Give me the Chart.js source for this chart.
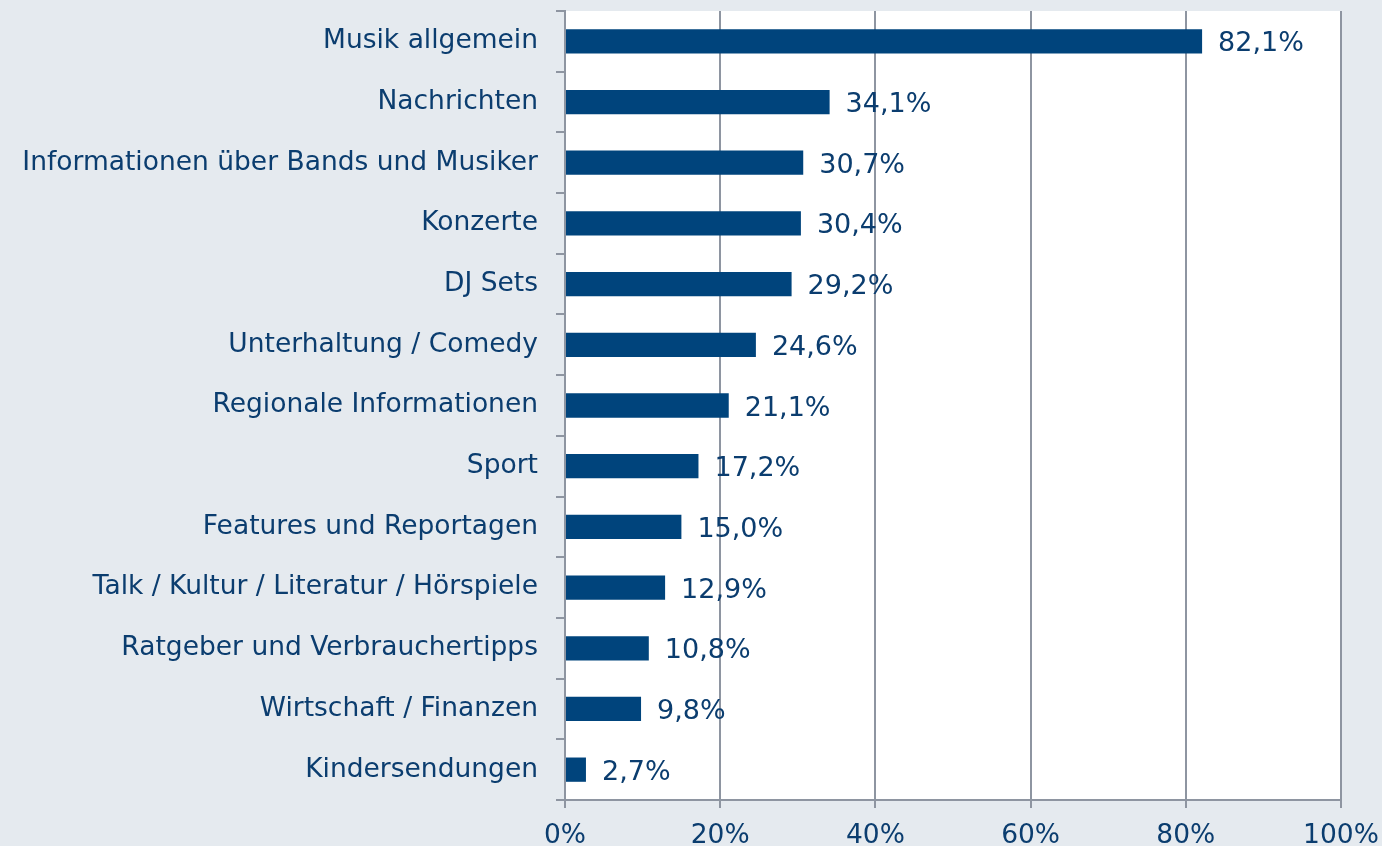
<!DOCTYPE html>
<html>
<head>
<meta charset="utf-8">
<script src="https://cdn.jsdelivr.net/npm/chart.js@4.4.1/dist/chart.umd.min.js"></script>
<style>
  html,body{margin:0;padding:0;background:#e5eaef;}
  #wrap{width:1382px;height:846px;}
</style>
</head>
<body>
<div id="wrap"><canvas id="c" width="1382" height="846"></canvas></div>
<script>
// Kategorien und Werte (Anteil in %)
const kategorien = [
  'Musik allgemein','Nachrichten','Informationen über Bands und Musiker','Konzerte',
  'DJ Sets','Unterhaltung / Comedy','Regionale Informationen','Sport',
  'Features und Reportagen','Talk / Kultur / Literatur / Hörspiele',
  'Ratgeber und Verbrauchertipps','Wirtschaft / Finanzen','Kindersendungen'
];
const werte = [82.1,34.1,30.7,30.4,29.2,24.6,21.1,17.2,15.0,12.9,10.8,9.8,2.7];
const xTicks = [0,20,40,60,80,100];

const TEXT = '#0b3d6f';
const BAR = '#00447c';
const GRID = '#8e95a1';
const FONT = "'DejaVu Sans', Verdana, sans-serif";

const fmt = v => v.toFixed(1).replace('.', ',') + '%';

// weisse Plotfläche
const plotBg = {
  id:'plotBg',
  beforeDraw(chart){
    const {ctx, chartArea:a} = chart;
    ctx.save();
    ctx.fillStyle = '#ffffff';
    ctx.fillRect(a.left, a.top, a.right-a.left, a.bottom-a.top);
    ctx.restore();
  }
};

// Werte rechts neben den Balken
const wertLabels = {
  id:'wertLabels',
  afterDatasetsDraw(chart){
    const {ctx} = chart;
    const meta = chart.getDatasetMeta(0);
    ctx.save();
    ctx.font = '27px ' + FONT;
    ctx.fillStyle = TEXT;
    ctx.textAlign = 'left';
    ctx.textBaseline = 'middle';
    meta.data.forEach((bar,i)=>{
      ctx.fillText(fmt(werte[i]), bar.x + 16, bar.y + 3);
    });
    ctx.restore();
  }
};

new Chart(document.getElementById('c'), {
  type:'bar',
  data:{
    labels: kategorien,
    datasets:[{
      data: werte,
      backgroundColor: BAR,
      borderWidth: 0,
      categoryPercentage: 1,
      barPercentage: 0.4
    }]
  },
  options:{
    indexAxis:'y',
    responsive:false,
    animation:false,
    layout:{ padding:{ top:11, right:41, left:0, bottom:0 } },
    plugins:{ legend:{display:false}, tooltip:{enabled:false} },
    scales:{
      x:{
        min:0, max:100,
        afterBuildTicks(scale){ scale.ticks = xTicks.map(v=>({value:v})); },
        afterFit(scale){ scale.height = 46; scale.paddingLeft = 0; scale.paddingRight = 0; },
        grid:{ color:GRID, lineWidth:2, tickLength:8, drawTicks:true },
        border:{ color:GRID, width:2 },
        ticks:{
          color:TEXT, padding:12, maxRotation:0,
          font:{ family:FONT, size:26.5 },
          callback:v => v + '%'
        }
      },
      y:{
        afterFit(scale){ scale.width = 565; scale.paddingTop = 0; scale.paddingBottom = 0; },
        grid:{ offset:true, drawOnChartArea:false, color:GRID, lineWidth:2, tickLength:9 },
        border:{ color:GRID, width:2 },
        ticks:{
          color:TEXT, padding:18,
          font:{ family:FONT, size:26.5 }
        }
      }
    }
  },
  plugins:[plotBg, wertLabels]
});
</script>
</body>
</html>
